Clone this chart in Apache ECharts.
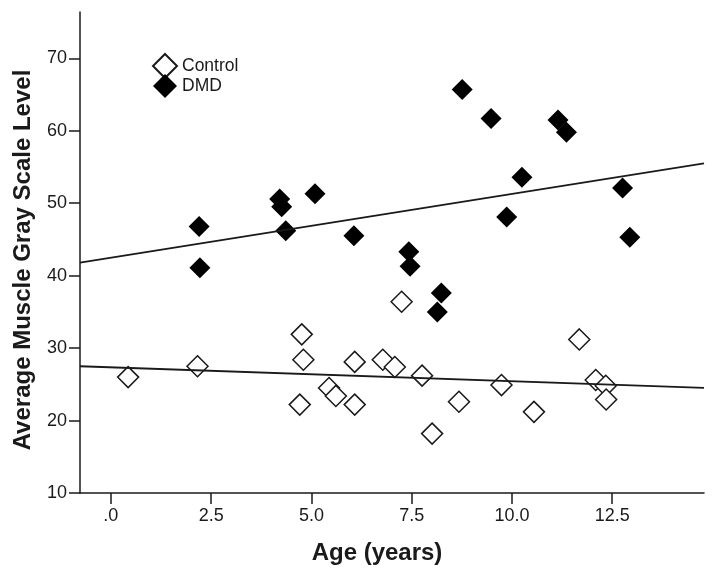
<!DOCTYPE html>
<html>
<head>
<meta charset="utf-8">
<script src="https://cdn.jsdelivr.net/npm/echarts@6/dist/echarts.min.js"></script>
<style>
html,body{margin:0;padding:0;background:#fff;}
#chart{width:714px;height:570px;}
</style>
</head>
<body>
<div id="chart"></div>
<script>
// Data
const controlAge  = [0.43, 2.16, 4.76, 4.80, 4.71, 5.44, 5.61, 6.08, 6.08, 6.78, 7.08, 7.25, 7.76, 8.01, 8.68, 9.74, 10.55, 11.68, 12.09, 12.34, 12.35];
const controlGray = [26.0, 27.5, 31.9, 28.4, 22.2, 24.5, 23.4, 28.1, 22.2, 28.4, 27.4, 36.4, 26.2, 18.2, 22.6, 24.9, 21.2, 31.2, 25.6, 24.8, 22.9];
const dmdAge  = [2.20, 2.22, 4.21, 4.26, 4.36, 5.09, 6.06, 7.43, 7.46, 8.24, 8.14, 8.76, 9.48, 9.87, 10.25, 11.15, 11.36, 12.76, 12.94];
const dmdGray = [46.8, 41.1, 50.6, 49.5, 46.2, 51.3, 45.5, 43.3, 41.3, 37.6, 35.0, 65.7, 61.7, 48.1, 53.6, 61.5, 59.8, 52.1, 45.3];
// Fit line end points
const fitAge = [-0.77, 14.79];
const controlFit = [27.5, 24.5];
const dmdFit = [41.8, 55.5];
// Tick values
const xTicks = [0, 2.5, 5, 7.5, 10, 12.5];
const yTicks = [10, 20, 30, 40, 50, 60, 70];

const zip = (a, b) => a.map((v, i) => [v, b[i]]);
const FONT = '"Liberation Sans", Arial, sans-serif';
const INK = '#1a1a1a';

const chart = echarts.init(document.getElementById('chart'));
chart.setOption({
  animation: false,
  backgroundColor: '#fff',
  grid: {left: 80, right: 10, top: 12, bottom: 77, containLabel: false},
  legend: {
    left: 152, top: 53, orient: 'vertical', padding: 0,
    itemWidth: 24, itemHeight: 24, itemGap: -5,
    data: ['Control', 'DMD'],
    textStyle: {fontFamily: FONT, fontSize: 17.5, color: INK}
  },
  xAxis: {
    type: 'value', min: fitAge[0], max: fitAge[1],
    name: 'Age (years)', nameLocation: 'middle', nameGap: 48,
    nameTextStyle: {fontFamily: FONT, fontSize: 24, fontWeight: 'bold', color: INK, padding: [0, 30, 0, 0]},
    axisLine: {onZero: false, lineStyle: {color: INK, width: 1.5}},
    axisTick: {customValues: xTicks, length: 11, lineStyle: {color: INK, width: 1.5}},
    axisLabel: {customValues: xTicks, margin: 14, fontFamily: FONT, fontSize: 18, color: INK,
      formatter: v => v === 0 ? '.0' : v.toFixed(1)},
    splitLine: {show: false}
  },
  yAxis: {
    type: 'value', min: 10, max: 76.4,
    name: 'Average Muscle Gray Scale Level', nameLocation: 'middle', nameGap: 45,
    nameTextStyle: {fontFamily: FONT, fontSize: 24, fontWeight: 'bold', color: INK, padding: [0, 15, 0, 0]},
    axisLine: {show: true, onZero: false, lineStyle: {color: INK, width: 1.5}},
    axisTick: {show: true, customValues: yTicks, length: 11, lineStyle: {color: INK, width: 1.5}},
    axisLabel: {customValues: yTicks, margin: 13, fontFamily: FONT, fontSize: 18, color: INK},
    splitLine: {show: false}
  },
  series: [
    {name: 'Control', type: 'scatter', symbol: 'diamond', symbolSize: 21,
     itemStyle: {color: '#fff', borderColor: INK, borderWidth: 1.5, opacity: 1},
     data: zip(controlAge, controlGray), z: 2},
    {name: 'DMD', type: 'scatter', symbol: 'diamond', symbolSize: 21,
     itemStyle: {color: '#000', borderColor: '#000', borderWidth: 0, opacity: 1},
     data: zip(dmdAge, dmdGray), z: 2},
    {name: 'Control fit', type: 'line', showSymbol: false, silent: true, z: 3,
     lineStyle: {color: INK, width: 1.8}, data: zip(fitAge, controlFit)},
    {name: 'DMD fit', type: 'line', showSymbol: false, silent: true, z: 3,
     lineStyle: {color: INK, width: 1.8}, data: zip(fitAge, dmdFit)}
  ]
});
</script>
</body>
</html>
